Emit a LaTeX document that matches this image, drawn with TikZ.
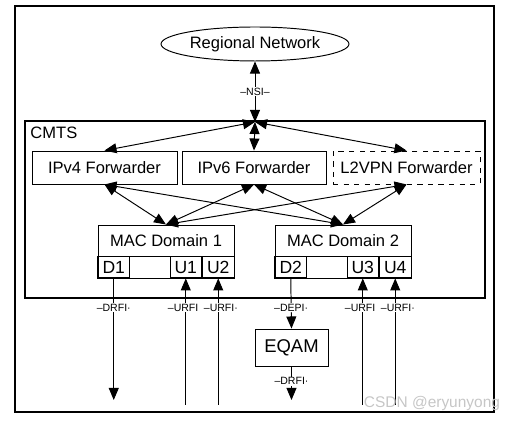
\documentclass[tikz,border=0pt]{standalone}
\usepackage{fontspec}
\setmainfont{Liberation Sans}
\usetikzlibrary{arrows,shapes.geometric}

\begin{document}
\begin{tikzpicture}[>=triangle 45,x=0.02cm,y=-0.02cm,line width=0.55pt,
  every node/.style={font=\fontsize{9.4}{11}\selectfont},
  fwd/.style={draw,minimum height=0.66cm,inner sep=0},
  mac/.style={draw,minimum width=2.72cm,minimum height=0.62cm,inner sep=0},
  port/.style={draw,minimum width=0.63cm,minimum height=0.42cm,inner sep=0,font=\fontsize{10}{11}\selectfont},
  lbl/.style={fill=white,inner sep=0.5pt,font=\fontsize{6}{7}\selectfont}]
\useasboundingbox (0,0) rectangle (512,421);
\draw[line width=0.9pt] (15,6) rectangle (494,412);
\node [draw,ellipse,minimum width=3.76cm,minimum height=0.68cm,inner sep=0] (reg) at (255,44) {Regional Network};
\draw[line width=0.9pt] (25,121) rectangle (485,298);
\node [right,inner sep=0] (cmts) at (30,133) {CMTS};
\coordinate (jn) at (255,122);
\draw[<->] (reg) -- node[lbl] (nsi) {\textendash NSI\textendash} (jn);
% forwarders
\node [fwd,minimum width=2.9cm] (ipv4) at (104.5,167.5) {IPv4 Forwarder};
\node [fwd,minimum width=2.88cm] (ipv6) at (254,167.5) {IPv6 Forwarder};
\node [fwd,dashed,minimum width=2.94cm] (l2vpn) at (406.5,167.5) {L2VPN Forwarder};
\draw[<->] (jn) -- (ipv4.north);
\draw[<->] (jn) -- (ipv6.north);
\draw[<->] (jn) -- (l2vpn.north);
% mac domains
\node [mac] (mac1) at (166,240.5) {MAC Domain 1};
\node [mac] (mac2) at (343,240.5) {MAC Domain 2};
\node [port,anchor=north west] (d1) at (mac1.south west) {D1};
\node [port,anchor=north east] (u2) at (mac1.south east) {U2};
\node [port,anchor=north east] (u1) at (u2.north west) {U1};
\node [port,anchor=north west] (d2) at (mac2.south west) {D2};
\node [port,anchor=north east] (u4) at (mac2.south east) {U4};
\node [port,anchor=north east] (u3) at (u4.north west) {U3};
\draw (mac1.south west) rectangle (u2.south east);
\draw (mac2.south west) rectangle (u4.south east);
\foreach \f in {ipv4,ipv6,l2vpn}
  \foreach \m in {mac1,mac2}
    \draw[<->] (\f.south) -- (\m.north);
% interfaces
\coordinate (dn) at (0,400);
\coordinate (up) at (0,405);
\node [draw,minimum width=1.46cm,minimum height=0.74cm,inner sep=0,font=\fontsize{10.5}{12}\selectfont] (eqam) at (291.5,347.5) {EQAM};
\draw[->] (d1.south) -- node[lbl,pos=0.24] {\textendash DRFI\textperiodcentered} (d1.south |- dn);
\draw[->] (d2.south) -- node[lbl,pos=0.58] {\textendash DEPI\textperiodcentered} (eqam.north);
\draw[->] (eqam.south) -- node[lbl,pos=0.44] {\textendash DRFI\textperiodcentered} (eqam.south |- dn);
\foreach \u/\s in {u1/-1.5,u3/-1.5}
  \draw[<-] (\u.south) -- node[lbl,pos=0.23,xshift=\s] {\textendash URFI} (\u.south |- up);
\foreach \u/\s in {u2/1.5,u4/1.5}
  \draw[<-] (\u.south) -- node[lbl,pos=0.23,xshift=\s] {\textendash URFI\textperiodcentered} (\u.south |- up);
\node [text=gray!45,font=\fontsize{8.8}{10}\selectfont] (wm) at (432,404) {CSDN @eryunyong};
\end{tikzpicture}
\end{document}
